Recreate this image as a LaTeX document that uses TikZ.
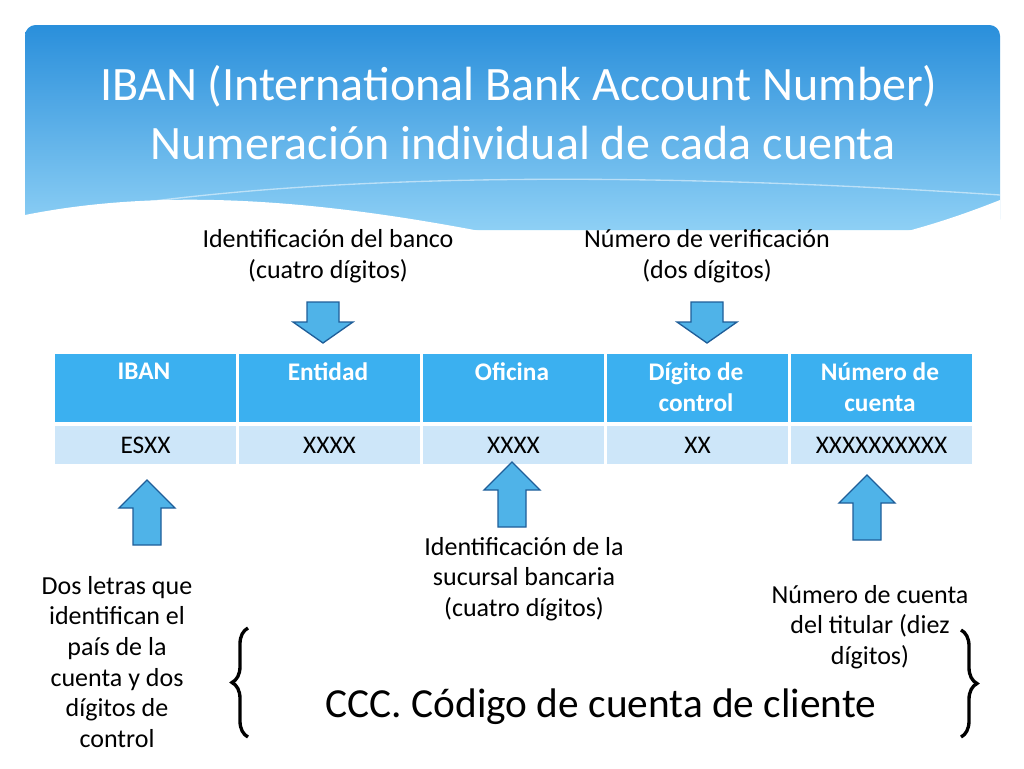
\documentclass[tikz,border=0pt]{standalone}
\usepackage{fontspec}
\setmainfont{Carlito}
\usetikzlibrary{shapes.arrows,decorations.pathreplacing}
\definecolor{hdr}{HTML}{3BB0F0}
\definecolor{row}{HTML}{CDE6F9}
\definecolor{arrf}{HTML}{4FB3E8}
\definecolor{arrd}{HTML}{1F5E99}
\definecolor{skyA}{HTML}{2A8FDB}
\definecolor{skyB}{HTML}{8ED0F5}
\begin{document}
\begin{tikzpicture}[x=0.75pt,y=-0.75pt,
  hcell/.style={fill=hdr,draw=white,line width=1.5pt,minimum width=183*0.75pt,minimum height=70*0.75pt,anchor=north west,inner sep=0pt},
  dcell/.style={fill=row,draw=white,line width=1.5pt,minimum width=183*0.75pt,minimum height=40*0.75pt,anchor=north west,inner sep=0pt,font=\fontsize{19}{23}\selectfont},
  htext/.style={text=white,font=\bfseries\fontsize{19}{23}\selectfont,align=center,anchor=north},
  lbl/.style={font=\fontsize{19.5}{23}\selectfont,align=center,text=black},
  arrowbox/.style={draw=arrd,fill=arrf,line width=1pt}]
\useasboundingbox (0,0) rectangle (1024,768);
\fill[white] (0,0) rectangle (1024,768);
% header
\shade[top color=skyA,bottom color=skyB,rounded corners=8pt]
 (25,25) -- (1000,25) -- (1000,230) -- (25,230) -- cycle;
\fill[white] (25,215) .. controls (150,190) and (300,195) .. (500,235) .. controls (700,275) and (850,260) .. (1000,200) -- (1000,300) -- (25,300) -- cycle;
\draw[white,opacity=0.5,line width=1pt] (25,222) .. controls (300,165) and (700,175) .. (1000,195);
\node[text=white,font=\fontsize{36}{44}\selectfont,anchor=center] (t1) at (519,86) {IBAN (International Bank Account Number)};
\node[text=white,font=\fontsize{36}{44}\selectfont,anchor=west] (t2) at (146,143) {Numeración individual de cada cuenta};
% table
\foreach \i/\t in {0/IBAN,1/Entidad,2/Oficina,3/{Dígito de\\control},4/{Número de\\cuenta}}{
  \node[hcell] (h\i) at (53+\i*184,352) {};
  \node[htext] at (53+\i*184+91,358) {\t};
}
\foreach \i/\t in {0/ESXX,1/XXXX,2/XXXX,3/XX,4/XXXXXXXXXX}{
  \node[dcell] (d\i) at (53+\i*184,424) {\t};
}
% labels
\node[lbl] (l1) at (328,256) {Identificación del banco\\(cuatro dígitos)};
\node[lbl] (l2) at (707,256) {Número de verificación\\(dos dígitos)};
\node[lbl] (l3) at (117,662) {Dos letras que\\identifican el\\país de la\\cuenta y dos\\dígitos de\\control};
\node[lbl] (l4) at (524,579) {Identificación de la\\sucursal bancaria\\(cuatro dígitos)};
\node[lbl] (l5) at (870,627) {Número de cuenta\\del titular (diez\\dígitos)};
% down arrows
\foreach \cx/\ty in {323/302,707/302}{
  \draw[arrowbox] (\cx-16,\ty) -- (\cx+16,\ty) -- (\cx+16,\ty+20) -- (\cx+30,\ty+20) -- (\cx,\ty+41) -- (\cx-30,\ty+20) -- (\cx-16,\ty+20) -- cycle;
}
% up arrows
\foreach \cx/\ty in {147/480,512/462,867/475}{
  \draw[arrowbox] (\cx,\ty) -- (\cx+28,\ty+28) -- (\cx+14,\ty+28) -- (\cx+14,\ty+65) -- (\cx-14,\ty+65) -- (\cx-14,\ty+28) -- (\cx-28,\ty+28) -- cycle;
}
% braces
\draw[decorate,decoration={brace,amplitude=12pt},line width=2.5pt] (248,737) -- (248,628);
\draw[decorate,decoration={brace,amplitude=12pt},line width=2.5pt] (961,630) -- (961,737);
\node[font=\fontsize{31}{38}\selectfont] (ccc) at (601,707) {CCC. Código de cuenta de cliente};
\end{tikzpicture}
\end{document}
